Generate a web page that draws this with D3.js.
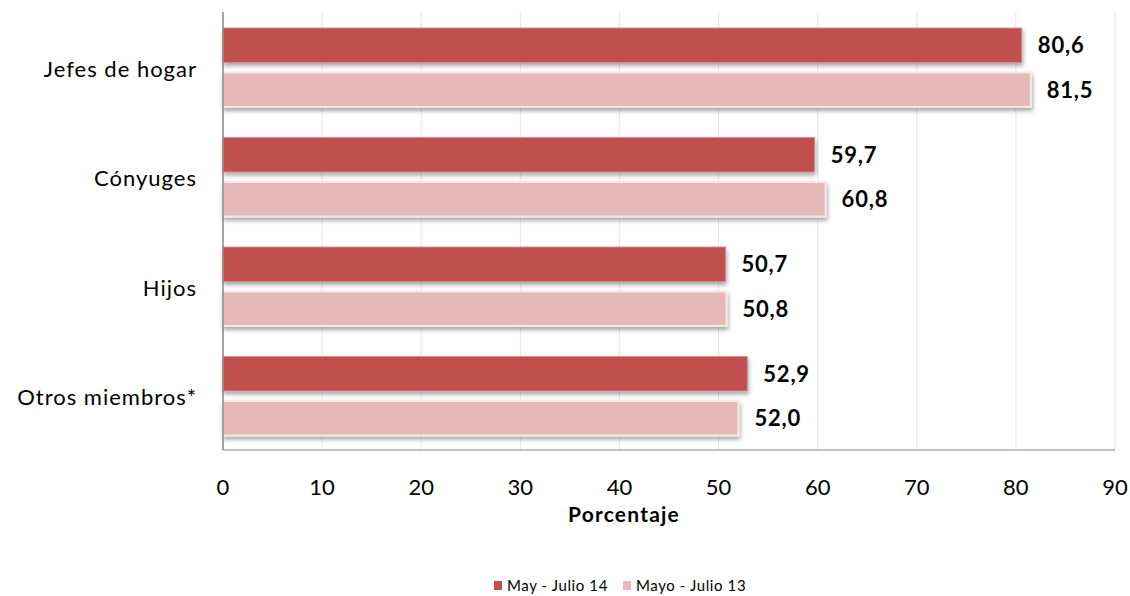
<!DOCTYPE html>
<html lang='es'>
<head>
  <meta charset='utf-8'>
  <title>Porcentaje por parentesco</title>
  <script src='https://d3js.org/d3.v7.min.js'></script>
  <style>
    body { margin: 0; background: #fff; }
    text { font-family: Lato, 'Open Sans', sans-serif; fill: #000; }
  </style>
</head>
<body>
<script>
// data
var categorias = ['Jefes de hogar', 'Cónyuges', 'Hijos', 'Otros miembros*'];
var series = ['May - Julio 14', 'Mayo - Julio 13'];
var julio14 = [80.6, 59.7, 50.7, 52.9];
var julio13 = [81.5, 60.8, 50.8, 52.0];
var ticks = [0, 10, 20, 30, 40, 50, 60, 70, 80, 90];
var colores = ['#C0504D', '#E6B9B8'];

var width = 1130, height = 596;
// plot box (note: 'top' is a reserved window property, so use other names)
var pLeft = 223, pRight = 1115, pTop = 12, pBottom = 450;

var svg = d3.select('body').append('svg')
  .attr('width', width)
  .attr('height', height);

// soft shadow under the bars
var defs = svg.append('defs');
var f = defs.append('filter').attr('id', 'sombra')
  .attr('x', '-5%').attr('y', '-20%').attr('width', '110%').attr('height', '160%');
f.append('feDropShadow').attr('dx', 1).attr('dy', 3).attr('stdDeviation', 2)
  .attr('flood-color', '#000').attr('flood-opacity', 0.35);

var x = d3.scaleLinear().domain([0, 90]).range([pLeft, pRight]);
var y = d3.scaleBand().domain(categorias).range([pTop, pBottom]);
// two bars per category, inside each band
var y1 = d3.scaleBand().domain(series).range([16, 95]).paddingInner(0.225).paddingOuter(0);

// gridlines
svg.append('g').selectAll('line')
  .data(ticks.slice(1))
  .enter().append('line')
  .attr('x1', d => x(d)).attr('x2', d => x(d))
  .attr('y1', pTop).attr('y2', pBottom)
  .attr('stroke', '#e6e6e6').attr('stroke-width', 1);

var filas = categorias.map(function (c, i) {
  return { cat: c, vals: [julio14[i], julio13[i]] };
});

var grupos = svg.append('g').selectAll('g')
  .data(filas)
  .enter().append('g')
  .attr('transform', d => 'translate(0,' + y(d.cat) + ')');

grupos.selectAll('rect')
  .data(d => d.vals.map((v, j) => ({ s: series[j], v: v, j: j })))
  .enter().append('rect')
  .attr('x', x(0))
  .attr('y', d => y1(d.s))
  .attr('width', d => x(d.v) - x(0))
  .attr('height', y1.bandwidth())
  .attr('fill', d => colores[d.j])
  .attr('stroke', d => d.j === 1 ? '#f6e6e6' : '#d98d8b')
  .attr('stroke-width', d => d.j === 1 ? 2 : 0.8)
  .attr('filter', 'url(#sombra)');

grupos.selectAll('text.valor')
  .data(d => d.vals.map((v, j) => ({ s: series[j], v: v, j: j })))
  .enter().append('text')
  .attr('class', 'valor')
  .attr('x', d => x(d.v) + 16)
  .attr('y', d => y1(d.s) + y1.bandwidth() / 2 + 8)
  .style('font-size', '22px')
  .style('font-weight', 'bold')
  .style('letter-spacing', '0.8px')
  .text(d => d3.format('.1f')(d.v).replace('.', ','));

// category labels
svg.append('g').selectAll('text')
  .data(categorias)
  .enter().append('text')
  .attr('x', 197)
  .attr('y', d => y(d) + y.bandwidth() / 2 + 10)
  .attr('text-anchor', 'end')
  .style('font-size', '22px')
  .style('letter-spacing', '1px')
  .text(d => d);

// axis lines
svg.append('line')
  .attr('x1', pLeft).attr('x2', pLeft).attr('y1', pTop).attr('y2', pBottom)
  .attr('stroke', '#868686').attr('stroke-width', 1.5);
svg.append('line')
  .attr('x1', pLeft).attr('x2', pRight).attr('y1', pBottom).attr('y2', pBottom)
  .attr('stroke', '#868686').attr('stroke-width', 1);

// tick labels
svg.append('g').selectAll('text')
  .data(ticks)
  .enter().append('text')
  .attr('x', d => x(d))
  .attr('y', 495)
  .attr('text-anchor', 'middle')
  .style('font-size', '22px')
  .text(d => d);

svg.append('text')
  .attr('x', 624)
  .attr('y', 522)
  .attr('text-anchor', 'middle')
  .style('font-size', '21px')
  .style('font-weight', 'bold')
  .style('letter-spacing', '1.2px')
  .text('Porcentaje');

// legend
var leg = svg.append('g').attr('transform', 'translate(494,581)');
var lx = [0, 129];
series.forEach(function (s, i) {
  leg.append('rect')
    .attr('x', lx[i]).attr('y', 0)
    .attr('width', 8).attr('height', 9)
    .attr('fill', colores[i]);
  leg.append('text')
    .attr('x', lx[i] + 13).attr('y', 10)
    .style('font-size', '15px')
    .style('letter-spacing', '0.6px')
    .text(s);
});
</script>
</body>
</html>
